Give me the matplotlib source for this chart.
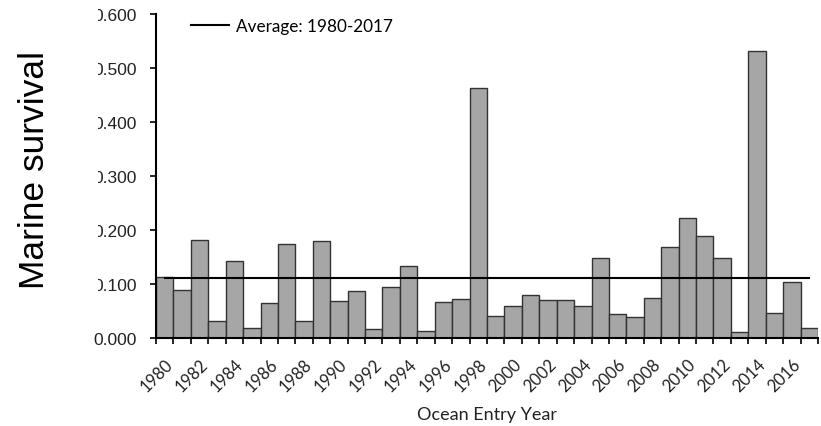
import matplotlib
matplotlib.use("Agg")
from matplotlib import pyplot as plt
from matplotlib.patches import Rectangle

years = list(range(1980, 2018))
survival = [0.113, 0.088, 0.182, 0.031, 0.142, 0.019, 0.064, 0.174, 0.031, 0.180,
            0.069, 0.087, 0.017, 0.094, 0.134, 0.013, 0.067, 0.073, 0.463, 0.041,
            0.060, 0.080, 0.071, 0.071, 0.060, 0.149, 0.044, 0.039, 0.075, 0.168,
            0.222, 0.189, 0.149, 0.012, 0.531, 0.046, 0.104, 0.019]
average = 0.111
avg_label = "Average: 1980-2017"
yticks = [0.0, 0.1, 0.2, 0.3, 0.4, 0.5, 0.6]

fig = plt.figure(figsize=(8.21, 4.27), dpi=100)
ax = fig.add_axes([156 / 821, 1 - 339 / 427, 662 / 821, 324 / 427])

x = list(range(len(years)))
ax.bar(x, survival, width=1.0, color="#a6a6a6", edgecolor="#333333", linewidth=1.0, zorder=2)
ax.plot([x[0], x[-1]], [average, average], color="black", linewidth=1.5, label=avg_label, zorder=3)

ax.set_xlim(-0.5, len(years) - 0.5)
ax.set_ylim(0, 0.6)

# tick marks on the category edges, labels every 2 years under the bars
ax.set_xticks([i - 0.5 for i in range(len(years) + 1)])
ax.set_xticklabels([])
ax.tick_params(axis="x", which="major", direction="out", length=4.5, width=1.2)
ax.set_xticks(x[::2], minor=True)
ax.set_xticklabels([str(y) for y in years[::2]], minor=True, rotation=45, ha="right",
                   rotation_mode="anchor", fontsize=12, family="Lato", color="#222222")
ax.tick_params(axis="x", which="minor", length=0, pad=13)

ax.set_yticks(yticks)
ax.set_yticklabels(["{:.3f}".format(v) for v in yticks], fontsize=12.5,
                   family="Liberation Sans", color="#222222")
ax.tick_params(axis="y", direction="out", length=4, width=1.2, pad=10)

for s in ["top", "right"]:
    ax.spines[s].set_visible(False)
for s in ["left", "bottom"]:
    ax.spines[s].set_linewidth(1.5)

ax.set_xlabel("Ocean Entry Year", fontsize=13, family="Lato", color="#222222")
ax.xaxis.label.set_va("center")
ax.xaxis.set_label_coords(0.5, -0.235)

leg = ax.legend(loc="upper left", bbox_to_anchor=(0.03, 1.035), frameon=False,
                prop={"family": "Lato", "size": 12.3}, handlelength=2.2, handletextpad=0.4)

# the title box of the y axis hides the leading digit of the upper tick labels
fig.patches.append(Rectangle((0, 1 - 305 / 427), 98 / 821, 305 / 427,
                             transform=fig.transFigure, facecolor="white",
                             edgecolor="none", zorder=5))
fig.text(35 / 821, 1 - 170 / 427, "Marine survival", rotation=90, fontsize=25.5,
         family="Liberation Sans", ha="center", va="center", zorder=6)

fig.savefig("out.png", dpi=100)
